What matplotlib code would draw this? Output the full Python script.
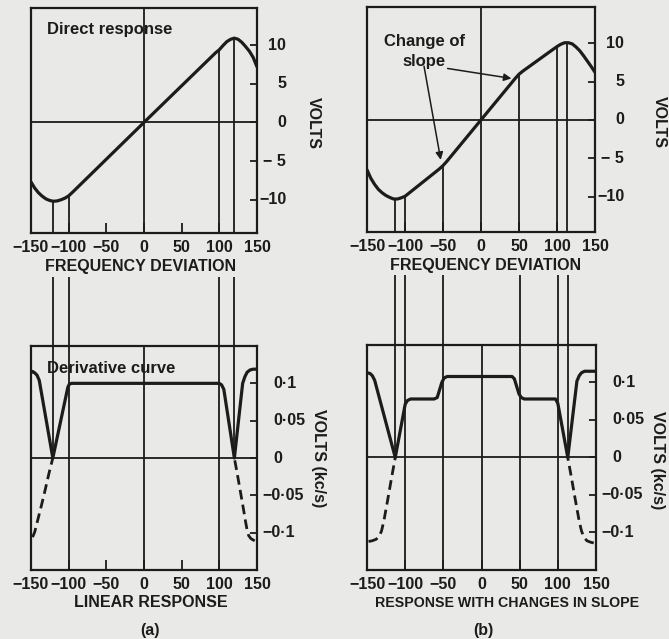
import numpy as np
import matplotlib.pyplot as plt
from matplotlib.transforms import offset_copy

plt.rcParams['font.family'] = ['Liberation Sans', 'DejaVu Sans']
plt.rcParams['font.weight'] = 'bold'

INK = '#1c1c1c'
PAPER = '#e9e9e7'

x_ticks = [-150, -100, -50, 0, 50, 100, 150]
x_labels = ['−150', '−100', '−50', '0', '50', '100', '150']
volt_ticks = [10, 5, 0, -5, -10]
volt_labels = ['10', '5', '0', '− 5', '−10']
deriv_ticks = [0.1, 0.05, 0, -0.05, -0.1]
deriv_labels = ['0·1', '0·05', '0', '−0·05', '−0·1']

# (a) linear response
freq_a = [-150, -145, -140, -135, -130, -125, -120, -115, -110, -105, -100, -95, 0,
          95, 100, 105, 110, 115, 120, 125, 130, 135, 140, 145, 150]
volts_a = [-7.7, -8.5, -9.1, -9.55, -9.9, -10.1, -10.2, -10.15, -10.0, -9.8, -9.5, -9.05, 0.0,
           9.0, 9.4, 9.95, 10.45, 10.75, 10.9, 10.75, 10.35, 9.8, 9.2, 8.4, 7.2]
deriv_freq_a = [-150, -148, -145, -142, -139, -121, -101, -99, -96, 100, 103, 106, 120,
                131, 134, 137, 141, 145, 150]
deriv_a = [0.114, 0.116, 0.114, 0.111, 0.104, 0.0, 0.095, 0.099, 0.100, 0.100, 0.098, 0.092, 0.0,
           0.100, 0.109, 0.115, 0.118, 0.119, 0.119]
dash_left_freq_a = [-121, -126, -131, -136, -141, -145, -147, -148]
dash_left_a = [0.0, -0.020, -0.042, -0.063, -0.083, -0.099, -0.104, -0.106]
dash_right_freq_a = [120, 124, 128, 132, 135, 137, 139, 142, 147]
dash_right_a = [0.0, -0.022, -0.045, -0.068, -0.086, -0.097, -0.104, -0.108, -0.111]
peaks_a = [-121, 120]
steps_a = [-100, 100]

# (b) response with changes in slope
freq_b = [-150, -145, -140, -135, -130, -125, -120, -115, -110, -105, -100, -55, -50, -45, 0,
          45, 50, 55, 95, 100, 105, 110, 115, 120, 125, 130, 135, 140, 145, 150]
volts_b = [-6.5, -7.6, -8.4, -9.05, -9.5, -9.85, -10.1, -10.3, -10.3, -10.15, -9.95, -6.4, -5.95, -5.4, 0.0,
           5.4, 5.95, 6.35, 9.2, 9.55, 9.85, 10.05, 10.05, 9.9, 9.5, 9.0, 8.35, 7.65, 6.95, 6.2]
deriv_freq_b = [-150, -146, -143, -140, -113, -100, -97, -93, -62, -58, -55, -52, -49, -45,
                40, 43, 46, 49, 52, 56, 97, 100, 113, 125, 128, 131, 135, 150]
deriv_b = [0.113, 0.112, 0.109, 0.103, 0.0, 0.071, 0.076, 0.078, 0.078, 0.080, 0.090, 0.100, 0.106, 0.108,
           0.108, 0.105, 0.095, 0.085, 0.080, 0.078, 0.078, 0.072, 0.0, 0.102, 0.109, 0.113, 0.115, 0.115]
dash_left_freq_b = [-113, -118, -123, -128, -131, -134, -138, -143, -148]
dash_left_b = [0.0, -0.028, -0.057, -0.085, -0.098, -0.105, -0.109, -0.111, -0.112]
dash_right_freq_b = [113, 118, 123, 128, 131, 134, 138, 143, 147]
dash_right_b = [0.0, -0.028, -0.057, -0.085, -0.098, -0.106, -0.111, -0.113, -0.114]
peaks_b = [-113, 113]
steps_b = [-100, -50, 50, 100]

fig = plt.figure(figsize=(6.69, 6.39), dpi=100, facecolor=PAPER)
ax_a1 = fig.add_axes([0.0463, 0.6354, 0.3378, 0.3521])
ax_b1 = fig.add_axes([0.5486, 0.6369, 0.3408, 0.3521])
ax_a2 = fig.add_axes([0.0463, 0.108, 0.3378, 0.3505])
ax_b2 = fig.add_axes([0.5486, 0.108, 0.3423, 0.3521])


def frame(ax, ylim):
    ax.set_facecolor(PAPER)
    ax.set_xlim(-150, 150)
    ax.set_ylim(*ylim)
    for sp in ax.spines.values():
        sp.set_linewidth(1.6)
        sp.set_color(INK)
    ax.axhline(0, color=INK, lw=1.3)
    ax.axvline(0, color=INK, lw=1.3)
    ax.set_xticks(x_ticks, x_labels)
    ax.tick_params(axis='x', direction='in', length=7, width=1.3, pad=5,
                   labelsize=11.5, colors=INK)
    ax.yaxis.tick_right()
    ax.tick_params(axis='y', direction='in', length=5, width=1.3, labelright=False,
                   colors=INK)


def right_labels(ax, ticks, labels, dx_pos, dx_neg, ha):
    ax.set_yticks(ticks)
    for v, s in zip(ticks, labels):
        dx = dx_neg if s.startswith('−') else dx_pos
        tr = offset_copy(ax.get_yaxis_transform(), fig=fig, x=dx, units='points')
        ax.text(1, v, s, transform=tr, ha=ha, va='center', fontsize=11.5, color=INK)


def direct_panel(ax, freq, volts, marks, ylim):
    frame(ax, ylim)
    ax.plot(freq, volts, color=INK, lw=2.3, solid_capstyle='round')
    ax.vlines(marks, ylim[0], np.interp(marks, freq, volts), color=INK, lw=1.3)
    right_labels(ax, volt_ticks, volt_labels, 21, 21, 'right')


def deriv_panel(ax, freq, vals, dl, dr, peaks, steps, ylim):
    frame(ax, ylim)
    ax.plot(freq, vals, color=INK, lw=2.3)
    # dashes start from the outer end so the short leftover sits in the V
    ax.plot(dl[0][::-1], dl[1][::-1], color=INK, lw=2.0, ls=(0, (3.5, 1.9)))
    ax.plot(dr[0][::-1], dr[1][::-1], color=INK, lw=2.0, ls=(0, (3.5, 1.9)))
    zero = (0 - ylim[0]) / (ylim[1] - ylim[0])
    tr = ax.get_xaxis_transform()
    ax.vlines(steps, 0, 1.31, transform=tr, clip_on=False, color=INK, lw=1.3)
    ax.vlines(peaks, zero, 1.31, transform=tr, clip_on=False, color=INK, lw=1.3)
    right_labels(ax, deriv_ticks, deriv_labels, 12, 4, 'left')


direct_panel(ax_a1, freq_a, volts_a, peaks_a + steps_a, (-14.3, 14.8))
direct_panel(ax_b1, freq_b, volts_b, peaks_b + steps_b, (-14.6, 14.7))
deriv_panel(ax_a2, deriv_freq_a, deriv_a, (dash_left_freq_a, dash_left_a),
            (dash_right_freq_a, dash_right_a), peaks_a, steps_a, (-0.15, 0.15))
deriv_panel(ax_b2, deriv_freq_b, deriv_b, (dash_left_freq_b, dash_left_b),
            (dash_right_freq_b, dash_right_b), peaks_b, steps_b, (-0.15, 0.15))

ax_a1.text(-129, 12.0, 'Direct response', ha='left', va='center', fontsize=12, color=INK)
ax_a2.text(-129, 0.12, 'Derivative curve', ha='left', va='center', fontsize=12, color=INK)

ax_b1.text(-75, 8.9, 'Change of\nslope', ha='center', va='center', fontsize=12,
           color=INK, linespacing=1.35)
arrow = dict(arrowstyle='-|>', color=INK, lw=1.1, mutation_scale=11, shrinkA=0, shrinkB=0)
ax_b1.annotate('', xy=(40, 5.4), xytext=(-44, 6.7), arrowprops=arrow)
ax_b1.annotate('', xy=(-53, -5.2), xytext=(-75, 7.0), arrowprops=arrow)

xlabels = [(ax_a1, 'FREQUENCY DEVIATION', 0.487, -0.151, 11.5),
           (ax_b1, 'FREQUENCY DEVIATION', 0.522, -0.147, 11.5),
           (ax_a2, 'LINEAR RESPONSE', 0.531, -0.147, 11.5),
           (ax_b2, 'RESPONSE WITH CHANGES IN SLOPE', 0.611, -0.147, 10.2)]
for ax, txt, x, y, fs in xlabels:
    ax.text(x, y, txt, transform=ax.transAxes, ha='center', va='center',
            fontsize=fs, color=INK)

ylabels = [(ax_a1, 'VOLTS', 1.248, 0.489), (ax_b1, 'VOLTS', 1.281, 0.489),
           (ax_a2, 'VOLTS (kc/s)', 1.274, 0.5), (ax_b2, 'VOLTS (kc/s)', 1.269, 0.49)]
for ax, txt, x, y in ylabels:
    ax.text(x, y, txt, transform=ax.transAxes, rotation=270, ha='center', va='center',
            fontsize=11.5, color=INK)

ax_a2.text(0.527, -0.268, '(a)', transform=ax_a2.transAxes, ha='center', va='center',
           fontsize=11.5, color=INK)
ax_b2.text(0.507, -0.267, '(b)', transform=ax_b2.transAxes, ha='center', va='center',
           fontsize=11.5, color=INK)

plt.savefig('out.png', dpi=100, facecolor=PAPER)
